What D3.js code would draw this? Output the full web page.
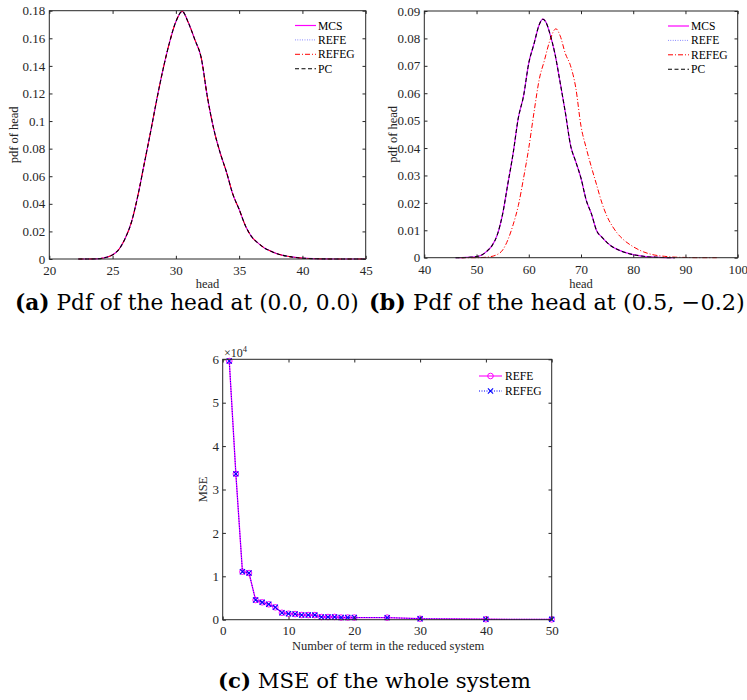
<!DOCTYPE html>
<html>
<head>
<meta charset="utf-8">
<script src="https://cdn.jsdelivr.net/npm/d3@7/dist/d3.min.js"></script>
<style>
  html, body { margin: 0; padding: 0; background: #fff; }
  svg { display: block; }
  .ax text { font-family: "Liberation Serif", "Times New Roman", serif; fill: #262626; }
</style>
</head>
<body>
<script>
// ---------- (a) pdf of the head at (0.0, 0.0) ----------
const headA = [22.3, 23, 24, 24.5, 25, 25.5, 26, 26.5, 27, 27.5, 28, 28.5, 29, 29.5, 30, 30.5,
  31, 31.5, 32, 32.5, 33, 33.5, 34, 34.5, 35, 35.5, 36, 36.5, 37, 37.5, 38, 39, 40, 41, 42, 43, 44, 45];
const pdfA_MCS = [0, 0, 0.0003, 0.0012, 0.003, 0.007, 0.015, 0.027, 0.046, 0.069, 0.092, 0.116,
  0.138, 0.157, 0.172, 0.1795, 0.171, 0.159, 0.146, 0.117, 0.094, 0.077, 0.063, 0.047, 0.036,
  0.024, 0.016, 0.0115, 0.008, 0.0057, 0.0038, 0.0017, 0.0006, 0.0002, 0.00005, 0, 0, 0];
// the four estimates coincide at this location
const pdfA_REFE = pdfA_MCS;
const pdfA_REFEG = pdfA_MCS;
const pdfA_PC = pdfA_MCS;

// ---------- (b) pdf of the head at (0.5, -0.2) ----------
const headB = [46, 48, 50, 51, 52, 53, 54, 55, 56, 57, 58, 59, 60, 61, 62, 62.7, 63.5, 64, 65, 66,
  67, 68, 69, 70, 71, 72, 73, 74, 75, 76, 78, 80, 82, 84, 86, 88];
const pdfB_MCS = [0, 0.0001, 0.0004, 0.001, 0.0024, 0.0045, 0.0085, 0.016, 0.027, 0.038, 0.051,
  0.059, 0.071, 0.078, 0.085, 0.087, 0.085, 0.082, 0.0745, 0.064, 0.053, 0.041, 0.035, 0.029,
  0.021, 0.016, 0.0098, 0.0075, 0.0055, 0.004, 0.0022, 0.0011, 0.0005, 0.0002, 0.00005, 0];
const pdfB_REFE = pdfB_MCS;
const pdfB_PC = pdfB_MCS;
const headB_REFEG = [47, 50, 52, 54, 55, 56, 57, 58, 59, 60, 61, 62, 63, 64, 65.2, 66, 67, 68, 69,
  70, 71, 72, 73, 74, 75, 76, 77, 78, 80, 82, 84, 86, 88, 90, 92, 96];
const pdfB_REFEG = [0, 0, 0.0002, 0.0012, 0.0028, 0.0065, 0.012, 0.019, 0.029, 0.040, 0.053,
  0.065, 0.072, 0.079, 0.0835, 0.081, 0.0745, 0.070, 0.062, 0.048, 0.040, 0.033, 0.0265, 0.020,
  0.015, 0.0115, 0.0088, 0.0068, 0.004, 0.0021, 0.001, 0.0005, 0.0002, 0.0001, 0, 0];

// ---------- (c) MSE of the whole system ----------
const nTerms = [1, 2, 3, 4, 5, 6, 7, 8, 9, 10, 11, 12, 13, 14, 15, 16, 17, 18, 19, 20, 25, 30, 40, 50];
const mseREFE = [59600, 33600, 11060, 10750, 4540, 4000, 3550, 2850, 1600, 1380, 1300, 1080, 1070,
  1060, 620, 620, 640, 500, 500, 500, 480, 230, 100, 80];
const mseREFEG = [59600, 33600, 11060, 10750, 4540, 4000, 3550, 2850, 1600, 1380, 1300, 1080, 1070,
  1060, 620, 620, 640, 500, 500, 500, 480, 230, 100, 80];

const ticksA_x = [20, 25, 30, 35, 40, 45];
const ticksA_y = [0, 0.02, 0.04, 0.06, 0.08, 0.1, 0.12, 0.14, 0.16, 0.18];
const ticksB_x = [40, 50, 60, 70, 80, 90, 100];
const ticksB_y = [0, 0.01, 0.02, 0.03, 0.04, 0.05, 0.06, 0.07, 0.08, 0.09];
const ticksC_x = [0, 10, 20, 30, 40, 50];
const ticksC_y = [0, 10000, 20000, 30000, 40000, 50000, 60000];

const seriesNames = ["MCS", "REFE", "REFEG", "PC"];
const mseNames = ["REFE", "REFEG"];

const W = 747, H = 700;
const AX = "#262626";
const FONT = '"Liberation Serif", "Times New Roman", serif';
const CAPFONT = '"DejaVu Serif", serif';

const svg = d3.select("body").append("svg").attr("width", W).attr("height", H);

const styles = {
  MCS:   { stroke: "#ff00ff", dash: null, width: 1.2 },
  REFE:  { stroke: "#4a4aff", dash: "0.8,1.6", width: 0.8 },
  REFEG: { stroke: "#ff0000", dash: "5,2,1,2", width: 1 },
  PC:    { stroke: "#000000", dash: "4,2.5", width: 1.1 }
};

// Draw a MATLAB-style boxed axes frame with inward ticks on all four sides.
function frame(g, x, y, xt, yt, opts) {
  const [x0, x1] = x.range();
  const [y1, y0] = y.range();
  const tl = 3.2;
  const bottom = g.append("g").attr("class", "ax").attr("transform", `translate(0,${y1})`)
    .call(d3.axisBottom(x).tickValues(xt).tickSizeInner(-tl).tickSizeOuter(0)
      .tickPadding(opts.xPad).tickFormat(opts.xFmt || d3.format("")));
  const top = g.append("g").attr("class", "ax").attr("transform", `translate(0,${y0})`)
    .call(d3.axisTop(x).tickValues(xt).tickSizeInner(-tl).tickSizeOuter(0).tickFormat(""));
  const left = g.append("g").attr("class", "ax").attr("transform", `translate(${x0},0)`)
    .call(d3.axisLeft(y).tickValues(yt).tickSizeInner(-tl).tickSizeOuter(0)
      .tickPadding(opts.yPad).tickFormat(opts.yFmt));
  const right = g.append("g").attr("class", "ax").attr("transform", `translate(${x1},0)`)
    .call(d3.axisRight(y).tickValues(yt).tickSizeInner(-tl).tickSizeOuter(0).tickFormat(""));
  [bottom, top, left, right].forEach(a => {
    a.select(".domain").remove();
    a.selectAll("line").attr("stroke", AX).attr("stroke-width", 1);
    a.selectAll("text").attr("font-size", 13).attr("font-family", FONT).attr("fill", AX);
  });
  g.append("rect").attr("x", x0).attr("y", y0).attr("width", x1 - x0).attr("height", y1 - y0)
    .attr("fill", "none").attr("stroke", AX).attr("stroke-width", 1);
}

function pdfPanel(cfg) {
  const g = svg.append("g");
  const x = d3.scaleLinear().domain(cfg.xDom).range([cfg.x0, cfg.x1]);
  const y = d3.scaleLinear().domain(cfg.yDom).range([cfg.y1, cfg.y0]);
  const line = (xs, ys) => d3.line().curve(d3.curveMonotoneX)
    .x((d, i) => x(xs[i])).y((d, i) => y(ys[i]))(ys);
  const plot = g.append("g");
  cfg.series.forEach(s => {
    const st = styles[s.name];
    plot.append("path").attr("d", line(s.x, s.y)).attr("fill", "none")
      .attr("stroke", st.stroke).attr("stroke-width", st.width)
      .attr("stroke-dasharray", st.dash);
  });
  frame(g, x, y, cfg.xt, cfg.yt, { xPad: 7, yPad: 4, yFmt: d3.format("") });

  // axis labels
  g.append("text").attr("x", (cfg.x0 + cfg.x1) / 2).attr("y", cfg.xlabY)
    .attr("text-anchor", "middle").attr("font-family", FONT).attr("font-size", 12.5)
    .attr("fill", AX).text("head");
  g.append("text").attr("transform", `translate(${cfg.ylabX},${(cfg.y0 + cfg.y1) / 2}) rotate(-90)`)
    .attr("text-anchor", "middle").attr("font-family", FONT).attr("font-size", 12.5)
    .attr("fill", AX).text("pdf of head");

  // legend
  seriesNames.forEach((name, i) => {
    const st = styles[name];
    const ly = cfg.legY + i * 14.4;
    g.append("line").attr("x1", cfg.legX).attr("x2", cfg.legX + 21).attr("y1", ly).attr("y2", ly)
      .attr("stroke", st.stroke).attr("stroke-width", st.width).attr("stroke-dasharray", st.dash);
    g.append("text").attr("x", cfg.legX + 23).attr("y", ly).attr("dy", "0.35em")
      .attr("font-family", FONT).attr("font-size", 11.6).attr("fill", "#000").text(name);
  });
}

pdfPanel({
  x0: 49.3, x1: 365.7, y0: 10.7, y1: 259,
  xDom: [20, 45], yDom: [0, 0.18], xt: ticksA_x, yt: ticksA_y,
  xlabY: 288, ylabX: 18, legX: 295, legY: 25.5,
  series: [
    { name: "MCS", x: headA, y: pdfA_MCS },
    { name: "REFE", x: headA, y: pdfA_REFE },
    { name: "REFEG", x: headA, y: pdfA_REFEG },
    { name: "PC", x: headA, y: pdfA_PC }
  ]
});

pdfPanel({
  x0: 424.3, x1: 737.7, y0: 11, y1: 257.7,
  xDom: [40, 100], yDom: [0, 0.09], xt: ticksB_x, yt: ticksB_y,
  xlabY: 287.5, ylabX: 397, legX: 668, legY: 26,
  series: [
    { name: "MCS", x: headB, y: pdfB_MCS },
    { name: "REFE", x: headB, y: pdfB_REFE },
    { name: "REFEG", x: headB_REFEG, y: pdfB_REFEG },
    { name: "PC", x: headB, y: pdfB_PC }
  ]
});

// ---------- panel (c) ----------
(function () {
  const x0 = 222.7, x1 = 551.7, y0 = 359.3, y1 = 619.7;
  const g = svg.append("g");
  const x = d3.scaleLinear().domain([0, 50]).range([x0, x1]);
  const y = d3.scaleLinear().domain([0, 60000]).range([y1, y0]);
  const line = d3.line().x((d, i) => x(nTerms[i])).y(d => y(d));

  g.append("path").attr("d", line(mseREFE)).attr("fill", "none")
    .attr("stroke", "#ff00ff").attr("stroke-width", 1.3);
  g.selectAll(".mk-o").data(mseREFE).join("circle").attr("class", "mk-o")
    .attr("cx", (d, i) => x(nTerms[i])).attr("cy", d => y(d)).attr("r", 2.8)
    .attr("fill", "none").attr("stroke", "#ff00ff").attr("stroke-width", 1);

  g.append("path").attr("d", line(mseREFEG)).attr("fill", "none")
    .attr("stroke", "#0000ff").attr("stroke-width", 1).attr("stroke-dasharray", "1,1.5");
  const xMark = (cx, cy, s) => `M${cx - s},${cy - s}L${cx + s},${cy + s}M${cx - s},${cy + s}L${cx + s},${cy - s}`;
  g.selectAll(".mk-x").data(mseREFEG).join("path").attr("class", "mk-x")
    .attr("d", (d, i) => xMark(x(nTerms[i]), y(d), 2.6))
    .attr("stroke", "#0000ff").attr("stroke-width", 1.1).attr("fill", "none");

  frame(g, x, y, ticksC_x, ticksC_y, { xPad: 6.5, yPad: 3.6, yFmt: d => d / 10000 });

  // exponent label
  const ex = g.append("text").attr("x", 224).attr("y", 356.5).attr("font-family", FONT)
    .attr("font-size", 12).attr("fill", AX);
  ex.append("tspan").text("×10");
  ex.append("tspan").attr("font-size", 8.5).attr("dy", -5).text("4");

  g.append("text").attr("x", (x0 + x1) / 2 + 1).attr("y", 650)
    .attr("text-anchor", "middle").attr("font-family", FONT).attr("font-size", 12.5)
    .attr("fill", AX).text("Number of term in the reduced system");
  g.append("text").attr("transform", `translate(206.5,${(y0 + y1) / 2}) rotate(-90)`)
    .attr("text-anchor", "middle").attr("font-family", FONT).attr("font-size", 12.5)
    .attr("fill", AX).text("MSE");

  // legend
  const lx = 479;
  mseNames.forEach((name, i) => {
    const ly = 376 + i * 15;
    const cx = lx + 11.5;
    if (name === "REFE") {
      g.append("line").attr("x1", lx).attr("x2", lx + 23).attr("y1", ly).attr("y2", ly)
        .attr("stroke", "#ff00ff").attr("stroke-width", 1.1);
      g.append("circle").attr("cx", cx).attr("cy", ly).attr("r", 2.8)
        .attr("fill", "none").attr("stroke", "#ff00ff");
    } else {
      g.append("line").attr("x1", lx).attr("x2", lx + 23).attr("y1", ly).attr("y2", ly)
        .attr("stroke", "#0000ff").attr("stroke-dasharray", "1,1.5");
      g.append("path").attr("d", xMark(cx, ly, 2.6)).attr("stroke", "#0000ff")
        .attr("stroke-width", 1.1);
    }
    g.append("text").attr("x", lx + 26).attr("y", ly).attr("dy", "0.35em")
      .attr("font-family", FONT).attr("font-size", 11.6).attr("fill", "#000").text(name);
  });
})();

// ---------- sub-captions ----------
function caption(x, y, tag, body, targetW) {
  const t = svg.append("text").attr("x", x).attr("y", y).attr("font-family", CAPFONT)
    .attr("font-size", 16).attr("fill", "#000");
  t.append("tspan").attr("font-weight", "bold").text(tag);
  t.append("tspan").text(" " + body);
  const w = t.node().getComputedTextLength();
  t.attr("font-size", 16 * targetW / w);
}
caption(15, 310, "(a)", "Pdf of the head at (0.0, 0.0)", 344);
caption(369, 310, "(b)", "Pdf of the head at (0.5, \u22120.2)", 376);
caption(218, 688, "(c)", "MSE of the whole system", 313);
</script>
</body>
</html>
